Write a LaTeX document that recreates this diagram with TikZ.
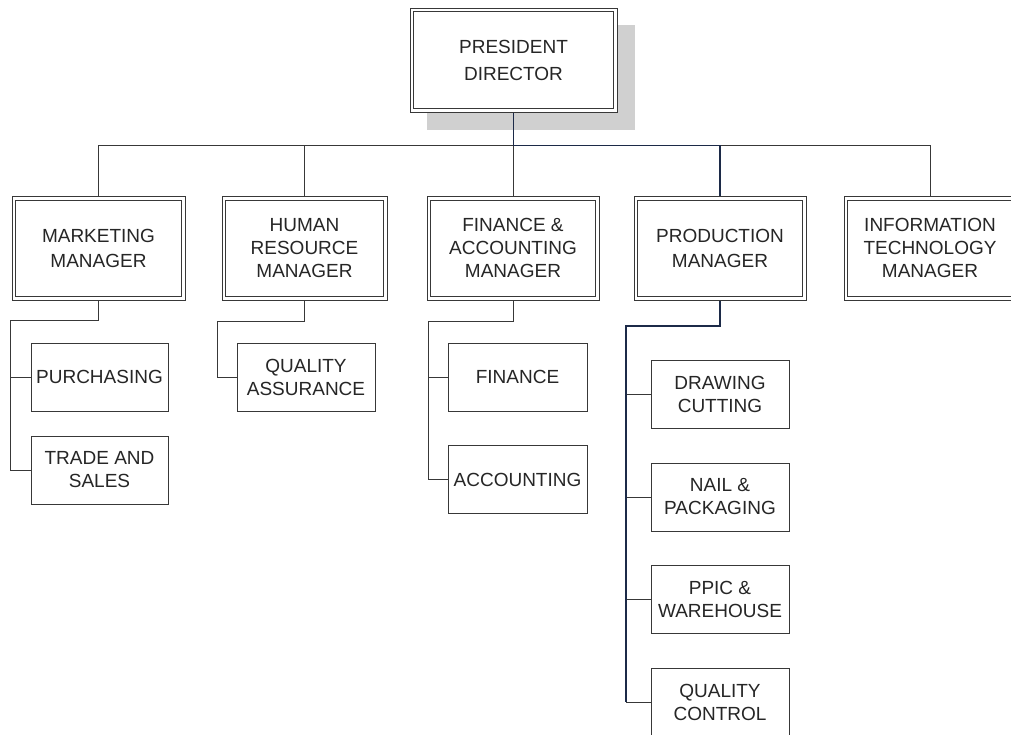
\documentclass[tikz,border=0pt]{standalone}
\usepackage{fontspec}
\setmainfont{Liberation Sans}
\usetikzlibrary{backgrounds,calc}
\definecolor{linegray}{HTML}{383838}
\definecolor{linenavy}{HTML}{1C2A48}
\definecolor{shadowgray}{HTML}{D0D0D0}
\definecolor{textgray}{HTML}{262626}
\begin{document}
\begin{tikzpicture}[x=1pt,y=-1pt,
  every node/.style={font=\fontsize{19}{23}\selectfont, text=textgray, align=center, inner sep=0pt},
  headbox/.style={draw=linegray, line width=1pt, fill=white, minimum height=103.3pt,
    path picture={\draw[linegray, line width=1pt]
      ([shift={(3.8pt,-3.8pt)}]path picture bounding box.north west) rectangle
      ([shift={(-3.8pt,3.8pt)}]path picture bounding box.south east);}},
  unitbox/.style={draw=linegray, line width=1pt, fill=white, minimum width=138pt, minimum height=68pt},
  link/.style={draw=linegray, line width=1pt},
  mainlink/.style={draw=linenavy, line width=1.1pt}]

\useasboundingbox (0,0) rectangle (1011,734);

% top of the chart
\node[headbox, minimum width=207pt, minimum height=104pt] (pres) at (513.5,60) {PRESIDENT\\[4pt]DIRECTOR};
\begin{scope}[on background layer]
  \fill[shadowgray] ($(pres.north west)+(17,17)$) rectangle ($(pres.south east)+(17,17)$);
\end{scope}

% managers
\node[headbox, minimum width=173pt] (mkt)  at (98.5,248.4)  {MARKETING\\[2pt]MANAGER};
\node[headbox, minimum width=165pt] (hr)   at (304.5,248.4) {HUMAN\\RESOURCE\\MANAGER};
\node[headbox, minimum width=172pt] (fin)  at (513,248.4)   {FINANCE \&\\ACCOUNTING\\MANAGER};
\node[headbox, minimum width=172pt] (prod) at (720,248.4)   {PRODUCTION\\[2pt]MANAGER};
\node[headbox, minimum width=172pt] (it)   at (930,248.4)   {INFORMATION\\TECHNOLOGY\\MANAGER};

% departments
\node[unitbox, minimum width=137pt] (pur)   at (99.5,377) {PURCHASING};
\node[unitbox, minimum width=137pt] (trade) at (99.5,470) {TRADE AND\\SALES};
\node[unitbox] (qa)    at (306,377)   {QUALITY\\ASSURANCE};
\node[unitbox, minimum width=139pt] (fnc)   at (517.5,377) {FINANCE};
\node[unitbox, minimum width=139pt] (acc)   at (517.5,479.5) {ACCOUNTING};
\node[unitbox] (dc)    at (720,394)   {DRAWING\\CUTTING};
\node[unitbox] (np)    at (720,497)   {NAIL \&\\PACKAGING};
\node[unitbox] (ppic)  at (720,599)   {PPIC \&\\WAREHOUSE};
\node[unitbox] (qc)    at (720,702)   {QUALITY\\CONTROL};

% bus under the president
\coordinate (bus) at (513.5,145.7);
\draw[link] (mkt.north) |- (bus);
\draw[link] (hr.north) -- (hr.north |- bus);
\draw[link] (fin.north) -- (fin.north |- bus);
\draw[link] (bus) -| (it.north);
\draw[mainlink] (pres.south) -- (bus) -| (prod.north);

% marketing departments
\coordinate (mkttr) at (10,320.5);
\draw[link] (mkt.south) |- (mkttr) |- (pur.west);
\draw[link] (mkttr) |- (trade.west);

% human resource departments
\coordinate (hrtr) at (217,321);
\draw[link] (hr.south) |- (hrtr) |- (qa.west);

% finance departments
\coordinate (fintr) at (428,321);
\draw[link] (fin.south) |- (fintr) |- (fnc.west);
\draw[link] (fintr) |- (acc.west);

% production departments
\coordinate (prodtr) at (626,326);
\draw[link] (prodtr) |- (dc.west);
\draw[link] (prodtr) |- (np.west);
\draw[link] (prodtr) |- (ppic.west);
\draw[link] (prodtr) |- (qc.west);
\draw[mainlink] (prod.south) |- (prodtr) -- (prodtr |- qc.west);
\end{tikzpicture}
\end{document}
